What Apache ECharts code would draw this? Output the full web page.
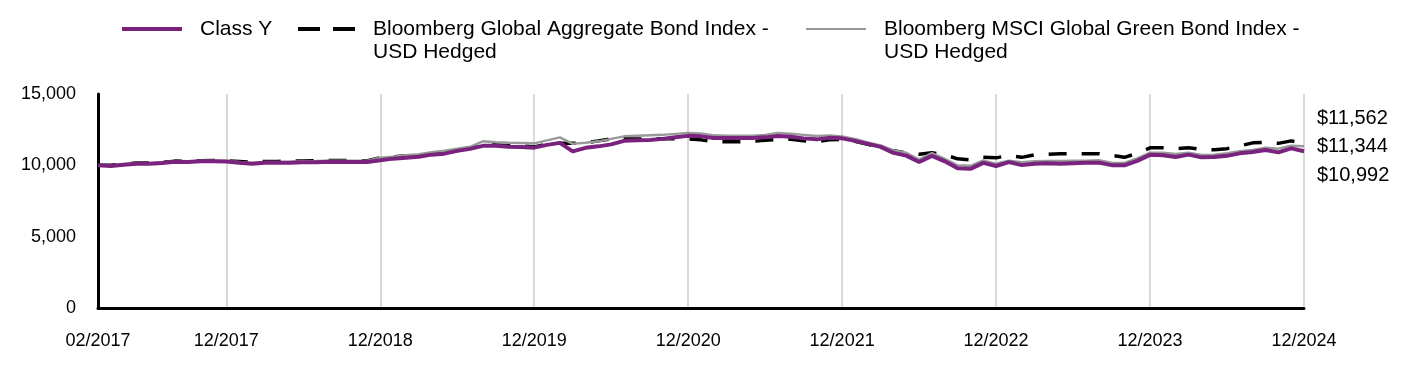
<!DOCTYPE html>
<html>
<head>
<meta charset="utf-8">
<script src="https://cdn.jsdelivr.net/npm/echarts@6/dist/echarts.min.js"></script>
<style>
  html, body { margin: 0; padding: 0; background: #fff; }
  #chart { width: 1416px; height: 372px; }
</style>
</head>
<body>
<div id="chart"></div>
<script>
const months = [
  '02/2017','03/2017','04/2017','05/2017','06/2017','07/2017','08/2017','09/2017','10/2017','11/2017','12/2017',
  '01/2018','02/2018','03/2018','04/2018','05/2018','06/2018','07/2018','08/2018','09/2018','10/2018','11/2018','12/2018',
  '01/2019','02/2019','03/2019','04/2019','05/2019','06/2019','07/2019','08/2019','09/2019','10/2019','11/2019','12/2019',
  '01/2020','02/2020','03/2020','04/2020','05/2020','06/2020','07/2020','08/2020','09/2020','10/2020','11/2020','12/2020',
  '01/2021','02/2021','03/2021','04/2021','05/2021','06/2021','07/2021','08/2021','09/2021','10/2021','11/2021','12/2021',
  '01/2022','02/2022','03/2022','04/2022','05/2022','06/2022','07/2022','08/2022','09/2022','10/2022','11/2022','12/2022',
  '01/2023','02/2023','03/2023','04/2023','05/2023','06/2023','07/2023','08/2023','09/2023','10/2023','11/2023','12/2023',
  '01/2024','02/2024','03/2024','04/2024','05/2024','06/2024','07/2024','08/2024','09/2024','10/2024','11/2024','12/2024'
];

const classY = [
  10000, 9951,10035,10119,10105,10161,10245,10231,10280,10294,10266,
  10175,10105,10175,10175,10189,10210,10224,10245,10238,10231,10231,10350,
  10469,10539,10595,10749,10819,11015,11155,11365,11365,11309,11288,11239,
  11435,11575,10980,11225,11330,11470,11715,11750,11771,11855,11974,12065,
  12030,11911,11911,11911,11911,11960,12051,12009,11890,11820,11925,11890,
  11715,11505,11295,10875,10679,10231,10665,10280, 9790, 9755,10175, 9951,
  10224,10014,10112,10140,10119,10154,10175,10189,10014,10000,10315,10735,
  10700,10581,10749,10560,10581,10665,10840,10931,11071,10910,11190,10992
];

const globalAgg = [
  10000,10000,10085,10170,10155,10210,10295,10280,10330,10345,10315,
  10275,10205,10275,10275,10290,10310,10325,10345,10340,10330,10330,10525,
  10595,10665,10665,10820,10890,11085,11225,11435,11435,11380,11360,11295,
  11490,11550,11540,11589,11715,11855,11855,11841,11855,11855,11869,11855,
  11785,11645,11645,11645,11680,11750,11820,11820,11715,11645,11785,11820,
  11680,11470,11260,11015,10875,10770,10875,10735,10455,10385,10560,10525,
  10700,10560,10735,10770,10819,10819,10819,10819,10700,10560,10840,11225,
  11225,11169,11239,11120,11085,11169,11365,11575,11610,11540,11715,11562
];

const greenBond = [
  10000, 9985,10070,10155,10140,10195,10280,10265,10315,10330,10300,
  10235,10165,10235,10240,10255,10280,10300,10330,10330,10325,10330,10525,
  10595,10700,10770,10910,11015,11155,11295,11680,11610,11575,11561,11540,
  11750,11960,11505,11575,11680,11855,12030,12065,12100,12135,12205,12261,
  12240,12100,12065,12065,12079,12135,12261,12219,12135,12051,12100,12030,
  11855,11610,11400,11050,10875,10399,10861,10455,10000, 9965,10350,10105,
  10315,10210,10280,10301,10301,10315,10329,10350,10175,10161,10490,10889,
  10875,10791,10875,10721,10749,10840,10980,11071,11239,11169,11379,11344
];

const seriesNames = [
  'Class Y',
  'Bloomberg Global Aggregate Bond Index -\nUSD Hedged',
  'Bloomberg MSCI Global Green Bond Index -\nUSD Hedged'
];
const yTicks = { min: 0, max: 15000, interval: 5000 };

const FONT = 'Liberation Sans, Arial, sans-serif';
const fmtNum = v => Number(v).toLocaleString('en-US');
const isLabelIdx = (idx, val) => idx === 0 || String(val).startsWith('12/');

function legendFor(name, left, twoLine, icon, w, h) {
  return {
    show: true,
    data: [{ name: name, icon: icon }],
    left: left,
    top: twoLine ? -5.5 : 17.5,
    padding: 0,
    itemWidth: w,
    itemHeight: h,
    selectedMode: false,
    formatter: n => (twoLine ? '\n' : '') + n,
    textStyle: {
      fontFamily: FONT, fontSize: 21, lineHeight: 23, color: '#000',
      padding: [0, 0, 0, 13]
    }
  };
}

const chart = echarts.init(document.getElementById('chart'), null, { renderer: 'canvas' });
chart.setOption({
  animation: false,
  backgroundColor: '#fff',
  legend: [
    legendFor(seriesNames[0], 122, false, 'rect', 60, 4),
    legendFor(seriesNames[1], 298, true, 'path://M0,0H22V4H0Z M35,0H57V4H35Z', 57, 4),
    legendFor(seriesNames[2], 806, true, 'rect', 60, 2)
  ],
  grid: { left: 98, right: 112, top: 94, bottom: 64, containLabel: false },
  xAxis: {
    type: 'category',
    data: months,
    boundaryGap: false,
    axisLine: { lineStyle: { color: '#000', width: 3 } },
    axisTick: { show: false },
    axisLabel: {
      interval: isLabelIdx,
      fontFamily: FONT, fontSize: 18, color: '#000', margin: 24
    },
    splitLine: {
      show: true,
      interval: isLabelIdx,
      lineStyle: { color: '#d9d9d9', width: 2 }
    }
  },
  yAxis: {
    type: 'value',
    min: yTicks.min, max: yTicks.max, interval: yTicks.interval,
    axisLine: { show: true, lineStyle: { color: '#000', width: 3 } },
    axisTick: { show: false },
    splitLine: { show: false },
    axisLabel: {
      fontFamily: FONT, fontSize: 18, color: '#000', margin: 22,
      formatter: v => fmtNum(v)
    }
  },
  series: [
    {
      name: seriesNames[1], type: 'line', data: globalAgg, symbol: 'none', z: 2,
      lineStyle: { color: '#000', width: 3.5, type: [18, 15] },
      itemStyle: { color: '#000' },
      endLabel: {
        show: true, distance: 13, offset: [0, -25],
        fontFamily: FONT, fontSize: 20, color: '#000',
        formatter: p => '$' + fmtNum(p.value)
      }
    },
    {
      name: seriesNames[2], type: 'line', data: greenBond, symbol: 'none', z: 3,
      lineStyle: { color: '#999999', width: 2.5 },
      itemStyle: { color: '#999999' },
      endLabel: {
        show: true, distance: 13, offset: [0, 0],
        fontFamily: FONT, fontSize: 20, color: '#000',
        formatter: p => '$' + fmtNum(p.value)
      }
    },
    {
      name: seriesNames[0], type: 'line', data: classY, symbol: 'none', z: 4,
      lineStyle: { color: '#79237f', width: 4 },
      itemStyle: { color: '#79237f' },
      endLabel: {
        show: true, distance: 13, offset: [0, 24.5],
        fontFamily: FONT, fontSize: 20, color: '#000',
        formatter: p => '$' + fmtNum(p.value)
      }
    }
  ]
});
</script>
</body>
</html>
